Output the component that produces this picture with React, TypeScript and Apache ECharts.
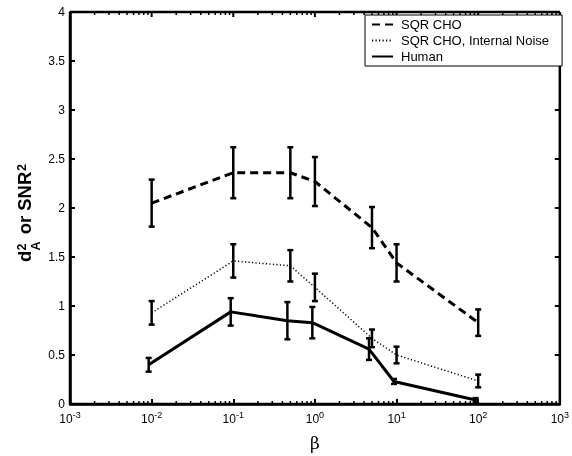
import React, { useEffect, useRef } from 'react';
import * as echarts from 'echarts';

// beta values (x)
const betaCho = [0.01, 0.1, 0.5, 1, 5, 10, 100];
const betaHuman = [0.0092, 0.093, 0.46, 0.93, 4.6, 9.3, 93];

// SQR CHO
const choMean = [2.05, 2.36, 2.36, 2.27, 1.8, 1.44, 0.83];
const choErr = [0.24, 0.26, 0.26, 0.25, 0.21, 0.19, 0.135];

// SQR CHO, Internal Noise
const noiseMean = [0.93, 1.46, 1.41, 1.19, 0.67, 0.5, 0.235];
const noiseErr = [0.12, 0.17, 0.16, 0.14, 0.09, 0.085, 0.065];

// Human
const humanMean = [0.4, 0.94, 0.85, 0.83, 0.56, 0.23, 0.04];
const humanErr = [0.07, 0.14, 0.19, 0.16, 0.11, 0.025, 0.02];

const seriesNames = ['SQR CHO', 'SQR CHO, Internal Noise', 'Human'];

// axis ranges and ticks
const xRange = [0.001, 1000];
const yRange = [0, 4];
const xMajorTicks = [0.001, 0.01, 0.1, 1, 10, 100, 1000];
const yMajorTicks = [0, 0.5, 1, 1.5, 2, 2.5, 3, 3.5, 4];

// log minor tick multipliers and decades
const minorMultipliers = [2, 3, 4, 5, 6, 7, 8, 9];
const decades = [0.001, 0.01, 0.1, 1, 10, 100];

const FONT = 'Liberation Sans, Arial, Helvetica, sans-serif';

function errorBars(name: string, xs: number[], means: number[], errs: number[]) {
  return {
    type: 'custom',
    name: name + ' err',
    data: xs.map((x, i) => [x, means[i] - errs[i], means[i] + errs[i]]),
    encode: { x: 0, y: [1, 2] },
    z: 4,
    silent: true,
    renderItem: (_params: any, api: any) => {
      const x = api.value(0);
      const lo = api.coord([x, api.value(1)]);
      const hi = api.coord([x, api.value(2)]);
      const hw = 3;
      const st = { stroke: '#000', lineWidth: 2.5 };
      return {
        type: 'group',
        children: [
          { type: 'line', shape: { x1: lo[0], y1: lo[1], x2: hi[0], y2: hi[1] }, style: st },
          { type: 'line', shape: { x1: lo[0] - hw, y1: lo[1], x2: lo[0] + hw, y2: lo[1] }, style: st },
          { type: 'line', shape: { x1: hi[0] - hw, y1: hi[1], x2: hi[0] + hw, y2: hi[1] }, style: st },
        ],
      };
    },
  };
}

function labelText(text: string, lx: number, ly: number, size: number) {
  return {
    type: 'text',
    x: lx,
    y: ly,
    style: {
      text,
      font: 'bold ' + size + 'px ' + FONT,
      fill: '#000',
      textVerticalAlign: 'middle',
      verticalAlign: 'middle',
      textAlign: 'left',
      align: 'left',
    },
  };
}

export default function App() {
  const ref = useRef<HTMLDivElement>(null);
  useEffect(() => {
    if (!ref.current) return;
    const chart = echarts.init(ref.current, undefined, { renderer: 'svg' });

    const minorTicks: number[][] = [];
    decades.forEach((d) => minorMultipliers.forEach((m) => minorTicks.push([d * m])));

    const option: any = {
      animation: false,
      grid: { left: 70, right: 7, top: 12, bottom: 44 },
      legend: {
        data: seriesNames,
        orient: 'vertical',
        left: 365,
        top: 15,
        backgroundColor: '#fff',
        borderColor: '#000',
        borderWidth: 1,
        borderRadius: 0,
        padding: [3, 13, 3, 6],
        itemWidth: 21,
        itemHeight: 13,
        itemGap: 3,
        itemStyle: { opacity: 0 },
        textStyle: { fontFamily: FONT, fontSize: 13, color: '#000', padding: [0, 0, 0, 3] },
        selectedMode: false,
        z: 10,
      },
      xAxis: {
        type: 'log',
        logBase: 10,
        min: xRange[0],
        max: xRange[1],
        position: 'bottom',
        axisLine: { show: true, onZero: false, lineStyle: { color: '#000', width: 2.5 } },
        axisTick: { show: true, inside: true, length: 5, lineStyle: { color: '#000', width: 2 } },
        splitLine: { show: false },
        name: 'β',
        nameLocation: 'middle',
        nameGap: 30,
        nameTextStyle: { fontFamily: 'DejaVu Serif, serif', fontSize: 17, color: '#000' },
        axisLabel: {
          show: true,
          margin: 6,
          formatter: (v: number) => '{b|10}{s|' + Math.round(Math.log10(v)) + '}',
          rich: {
            b: { fontFamily: FONT, fontSize: 12, color: '#000', lineHeight: 17 },
            s: { fontFamily: FONT, fontSize: 9, color: '#000', verticalAlign: 'top', lineHeight: 10 },
          },
        },
      },
      yAxis: {
        type: 'value',
        min: yRange[0],
        max: yRange[1],
        interval: 0.5,
        position: 'left',
        axisLine: { show: true, onZero: false, lineStyle: { color: '#000', width: 2.5 } },
        axisTick: { show: true, inside: true, length: 5, lineStyle: { color: '#000', width: 2 } },
        splitLine: { show: false },
        axisLabel: { show: true, fontFamily: FONT, fontSize: 12, color: '#000', margin: 5 },
      },
      graphic: [
        {
          type: 'group',
          x: 0,
          y: 262,
          rotation: Math.PI / 2,
          children: [
            labelText('d', 0, 24.7, 18.5),
            labelText('A', 11.5, 36, 12.5),
            labelText('2', 11.5, 22.3, 12.5),
            labelText(' or SNR', 22.5, 24.7, 18.5),
            labelText('2', 91, 22.3, 12.5),
          ],
        },
      ],
      series: [
        {
          type: 'custom',
          name: 'frame',
          data: [[xRange[0], yRange[0], xRange[1], yRange[1]]],
          encode: { x: [0, 2], y: [1, 3] },
          silent: true,
          z: 6,
          renderItem: (_params: any, api: any) => {
            const a = api.coord([api.value(0), api.value(1)]);
            const b = api.coord([api.value(2), api.value(3)]);
            const st = { stroke: '#000', lineWidth: 2.5 };
            return {
              type: 'group',
              children: [
                { type: 'line', shape: { x1: a[0], y1: a[1], x2: b[0], y2: a[1] }, style: st },
                { type: 'line', shape: { x1: a[0], y1: b[1], x2: b[0], y2: b[1] }, style: st },
                { type: 'line', shape: { x1: a[0], y1: a[1], x2: a[0], y2: b[1] }, style: st },
                { type: 'line', shape: { x1: b[0], y1: a[1], x2: b[0], y2: b[1] }, style: st },
              ],
            };
          },
        },
        {
          type: 'line',
          name: seriesNames[0],
          data: betaCho.map((x, i) => [x, choMean[i]]),
          symbol: 'none',
          lineStyle: { color: '#000', width: 3, type: [8, 5] },
          itemStyle: { color: '#000' },
          z: 3,
        },
        {
          type: 'line',
          name: seriesNames[1],
          data: betaCho.map((x, i) => [x, noiseMean[i]]),
          symbol: 'none',
          lineStyle: { color: '#000', width: 1.5, type: [1.2, 2.3] },
          itemStyle: { color: '#000' },
          z: 3,
        },
        {
          type: 'line',
          name: seriesNames[2],
          data: betaHuman.map((x, i) => [x, humanMean[i]]),
          symbol: 'none',
          lineStyle: { color: '#000', width: 3, type: 'solid' },
          itemStyle: { color: '#000' },
          z: 3,
        },
        errorBars(seriesNames[0], betaCho, choMean, choErr),
        errorBars(seriesNames[1], betaCho, noiseMean, noiseErr),
        errorBars(seriesNames[2], betaHuman, humanMean, humanErr),
        {
          type: 'custom',
          name: 'minor ticks',
          data: minorTicks,
          encode: { x: 0 },
          silent: true,
          z: 5,
          renderItem: (_params: any, api: any) => {
            const v = api.value(0);
            const b = api.coord([v, yRange[0]]);
            const t = api.coord([v, yRange[1]]);
            const st = { stroke: '#000', lineWidth: 1.5 };
            return {
              type: 'group',
              children: [
                { type: 'line', shape: { x1: b[0], y1: b[1], x2: b[0], y2: b[1] - 3 }, style: st },
                { type: 'line', shape: { x1: t[0], y1: t[1], x2: t[0], y2: t[1] + 3 }, style: st },
              ],
            };
          },
        },
        {
          type: 'custom',
          name: 'top ticks',
          data: xMajorTicks.map((v) => [v]),
          encode: { x: 0 },
          silent: true,
          z: 5,
          renderItem: (_params: any, api: any) => {
            const t = api.coord([api.value(0), yRange[1]]);
            return { type: 'line', shape: { x1: t[0], y1: t[1], x2: t[0], y2: t[1] + 5 }, style: { stroke: '#000', lineWidth: 2 } };
          },
        },
        {
          type: 'custom',
          name: 'right ticks',
          data: yMajorTicks.map((v) => [xRange[1], v]),
          encode: { x: 0, y: 1 },
          silent: true,
          z: 5,
          renderItem: (_params: any, api: any) => {
            const p = api.coord([api.value(0), api.value(1)]);
            return { type: 'line', shape: { x1: p[0], y1: p[1], x2: p[0] - 5, y2: p[1] }, style: { stroke: '#000', lineWidth: 2 } };
          },
        },
      ],
    };
    chart.setOption(option);
    return () => chart.dispose();
  }, []);
  return <div ref={ref} style={{ position: 'fixed', left: 0, top: 0, width: 572, height: 456 }} />;
}
